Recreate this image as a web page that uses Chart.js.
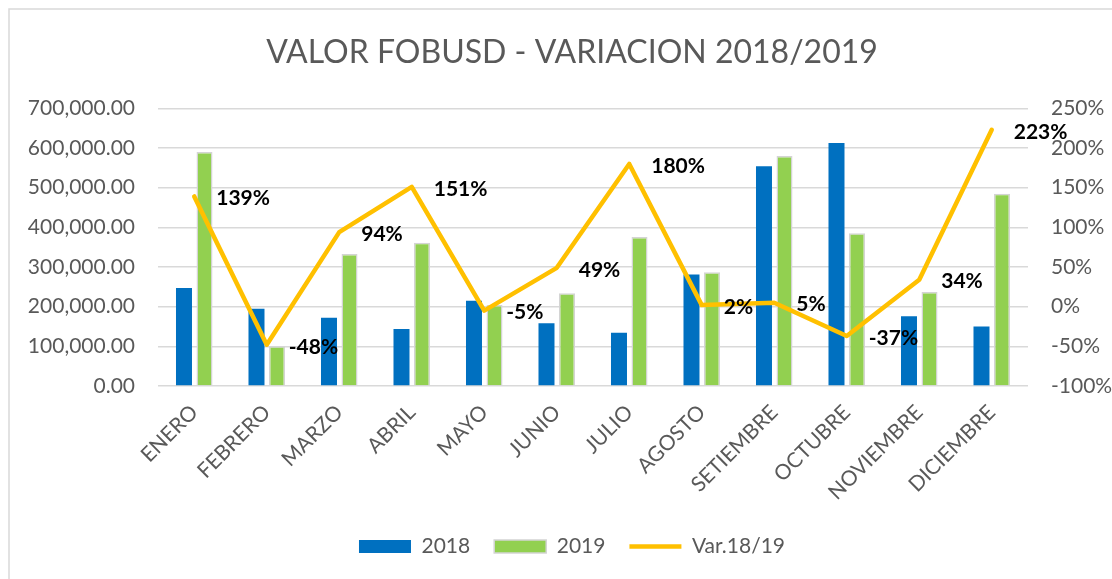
<!DOCTYPE html>
<html>
<head>
<meta charset="utf-8">
<script src="https://cdn.jsdelivr.net/npm/chart.js@4/dist/chart.umd.min.js"></script>
<style>
    html, body { margin: 0; padding: 0; background: #ffffff; overflow: hidden; }
    #wrap { width: 1144px; height: 579px; position: relative; }
</style>
</head>
<body>
<div id="wrap"><canvas id="fobChart"></canvas></div>
<script>
// Meses
const months = ['ENERO', 'FEBRERO', 'MARZO', 'ABRIL', 'MAYO', 'JUNIO', 'JULIO', 'AGOSTO', 'SETIEMBRE', 'OCTUBRE', 'NOVIEMBRE', 'DICIEMBRE'];

// Valor FOB USD por año
const fob2018 = [247000, 195000, 172000, 144000, 215000, 158000, 134000, 281000, 554000, 613000, 176000, 150000];
const fob2019 = [590000, 100000, 333000, 361000, 204000, 234000, 376000, 287000, 580000, 385000, 237000, 485000];

// Variación 2018/2019 (%)
const variation = [139, -48, 94, 151, -5, 49, 180, 2, 5, -37, 34, 223];

// Axis ticks
const leftTicks = { min: 0, max: 700000, step: 100000 };
const rightTicks = { min: -100, max: 250, step: 50 };

const fontFamily = 'Lato, "Open Sans", sans-serif';
const grayText = '#595959';

// Light frame around the chart, like the Excel chart border
const framePlugin = {
    id: 'frame',
    beforeDraw(chart) {
        const ctx = chart.ctx;
        ctx.save();
        ctx.fillStyle = '#ffffff';
        ctx.fillRect(0, 0, chart.width, chart.height);
        ctx.strokeStyle = '#d9d9d9';
        ctx.lineWidth = 1.5;
        ctx.strokeRect(9, 9, chart.width + 20, chart.height + 20);
        ctx.restore();
    }
};

// Percentage labels next to each point of the variation line
const varLabelsPlugin = {
    id: 'varLabels',
    afterDraw(chart) {
        const meta = chart.getDatasetMeta(2);
        const ctx = chart.ctx;
        ctx.save();
        ctx.font = 'bold 21px ' + fontFamily;
        ctx.fillStyle = '#000000';
        ctx.textAlign = 'left';
        ctx.textBaseline = 'middle';
        meta.data.forEach((pt, i) => {
            ctx.fillText(variation[i] + '%', pt.x + 22, pt.y + 2);
        });
        ctx.restore();
    }
};

document.addEventListener('DOMContentLoaded', function() {
    const ctx = document.getElementById('fobChart').getContext('2d');

    new Chart(ctx, {
        type: 'bar',
        data: {
            labels: months,
            datasets: [
                {
                    label: '2018',
                    data: fob2018,
                    backgroundColor: '#0070c0',
                    borderWidth: 0,
                    yAxisID: 'y',
                    order: 1,
                    pointStyle: 'rect'
                },
                {
                    label: '2019',
                    data: fob2019,
                    backgroundColor: '#92d050',
                    borderColor: '#d4d4d4',
                    borderWidth: 1.5,
                    yAxisID: 'y',
                    order: 1,
                    pointStyle: 'rect'
                },
                {
                    type: 'line',
                    label: 'Var.18/19',
                    data: variation,
                    borderColor: '#ffc000',
                    backgroundColor: '#ffc000',
                    borderWidth: 4.5,
                    borderCapStyle: 'round',
                    borderJoinStyle: 'round',
                    pointRadius: 0,
                    tension: 0,
                    yAxisID: 'y1',
                    order: 0,
                    pointStyle: 'line'
                }
            ]
        },
        options: {
            responsive: true,
            maintainAspectRatio: false,
            animation: false,
            datasets: {
                bar: {
                    categoryPercentage: 0.566,
                    barPercentage: 0.78
                }
            },
            layout: {
                padding: { left: 0, right: 0, top: 0, bottom: 12 }
            },
            plugins: {
                title: {
                    display: true,
                    text: 'VALOR FOBUSD - VARIACION 2018/2019',
                    color: grayText,
                    font: { family: fontFamily, size: 32, weight: 'normal' },
                    padding: { top: 33, bottom: 37 }
                },
                legend: {
                    position: 'bottom',
                    labels: {
                        usePointStyle: true,
                        pointStyleWidth: 52,
                        boxHeight: 13,
                        color: grayText,
                        font: { family: fontFamily, size: 21 },
                        padding: 24,
                        sort: (a, b) => a.datasetIndex - b.datasetIndex
                    }
                },
                tooltip: { enabled: false }
            },
            scales: {
                x: {
                    grid: { display: false },
                    border: { display: false },
                    ticks: {
                        color: grayText,
                        font: { family: fontFamily, size: 21 },
                        minRotation: 45,
                        maxRotation: 45,
                        autoSkip: false,
                        padding: 6
                    },
                    afterFit: function(scale) {
                        scale.height = 126;
                    }
                },
                y: {
                    position: 'left',
                    min: leftTicks.min,
                    max: leftTicks.max,
                    grid: { color: '#d9d9d9', lineWidth: 1.5, drawTicks: false },
                    border: { display: false },
                    ticks: {
                        stepSize: leftTicks.step,
                        color: grayText,
                        font: { family: fontFamily, size: 21 },
                        padding: 23,
                        callback: v => v.toLocaleString('en-US', { minimumFractionDigits: 2, maximumFractionDigits: 2 })
                    },
                    afterFit: function(scale) {
                        scale.width = 158;
                    }
                },
                y1: {
                    position: 'right',
                    min: rightTicks.min,
                    max: rightTicks.max,
                    grid: { display: false, drawTicks: false },
                    border: { display: false },
                    ticks: {
                        stepSize: rightTicks.step,
                        color: grayText,
                        font: { family: fontFamily, size: 21 },
                        padding: 23,
                        callback: v => v + '%'
                    },
                    afterFit: function(scale) {
                        scale.width = 116;
                    }
                }
            }
        },
        plugins: [framePlugin, varLabelsPlugin]
    });
});
</script>
</body>
</html>
